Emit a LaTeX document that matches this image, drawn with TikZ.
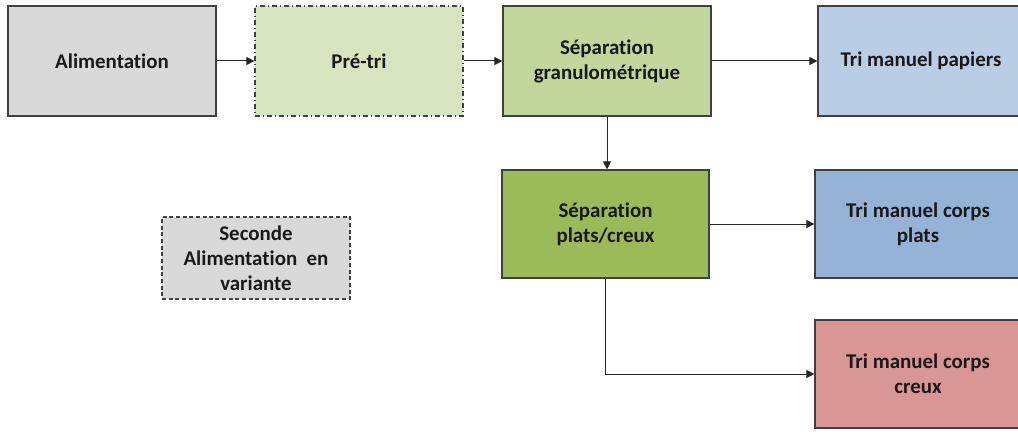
\documentclass[tikz,border=0pt]{standalone}
\usepackage{fontspec}
\setmainfont[Ligatures=NoCommon, RawFeature=-liga]{Carlito}
\usetikzlibrary{arrows.meta}
\definecolor{gris}{HTML}{D9D9D9}
\definecolor{vertclair}{HTML}{D7E4BD}
\definecolor{vertmoyen}{HTML}{C3D69B}
\definecolor{vertfonce}{HTML}{9BBB59}
\definecolor{bleuclair}{HTML}{B9CDE5}
\definecolor{bleumoyen}{HTML}{95B3D7}
\definecolor{rouge}{HTML}{D99694}
\definecolor{bord}{HTML}{404040}
\tikzset{
  etape/.style={draw=bord, line width=0.9pt, align=center, inner sep=0pt,
    minimum width=156pt, minimum height=82.5pt, text=black!90,
    font=\fontsize{15.7}{18.8}\selectfont\bfseries},
  fleche/.style={-{Triangle[length=6pt,width=6pt]}, line width=0.75pt, draw=black!85}
}

\begin{document}
\begin{tikzpicture}[x=0.75pt, y=-0.75pt]
  \clip (0,0) rectangle (1018,435);

  \node [etape, fill=gris] (alim) at (112,61) {Alimentation};
  \node [etape, fill=vertclair, dash pattern=on 4pt off 2pt on 1pt off 2pt] (pretri) at (359,61) {Pré-tri};
  \node [etape, fill=vertmoyen] (sepgran) at (607,61) {Séparation\\granulométrique};
  \node [etape, fill=bleuclair, minimum width=154.5pt] (papiers) at (921,61) {Tri manuel papiers};

  \node [etape, fill=vertfonce, minimum width=155.25pt, minimum height=81pt] (sepplats) at (605.5,224) {Séparation\\plats/creux};
  \node [etape, fill=bleumoyen, minimum width=154.5pt, minimum height=81pt] (plats) at (918,224) {Tri manuel corps\\plats};
  \node [etape, fill=rouge, minimum width=154.5pt, minimum height=81pt] (creux) at (918,374) {Tri manuel corps\\creux};

  \node [etape, fill=gris, dashed, dash pattern=on 3pt off 2pt, minimum width=141pt, minimum height=61.5pt] (seconde) at (256,258) {Seconde\\Alimentation\ \ en\\variante};

  \draw [fleche] (alim) -- (pretri);
  \draw [fleche] (pretri) -- (sepgran);
  \draw [fleche] (sepgran) -- (papiers);
  \draw [fleche] (sepgran.south) -- (sepgran.south |- sepplats.north);
  \draw [fleche] (sepplats) -- (plats);
  \draw [fleche] (sepplats.south) |- (creux.west);
\end{tikzpicture}
\end{document}
